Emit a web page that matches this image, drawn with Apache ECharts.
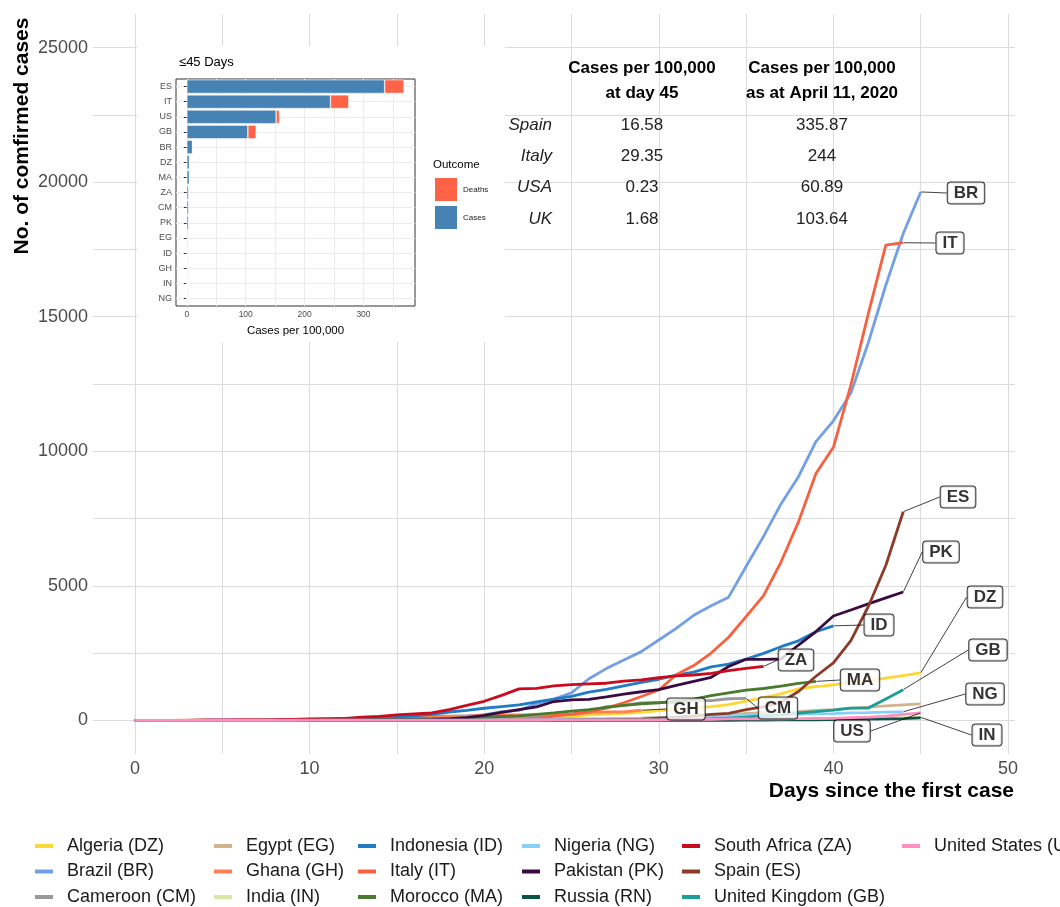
<!DOCTYPE html>
<html>
<head>
<meta charset="utf-8">
<script src="https://cdn.jsdelivr.net/npm/echarts@6/dist/echarts.min.js"></script>
<style>
  html, body { margin: 0; padding: 0; background: #fff; }
  #main { width: 1060px; height: 907px; }
</style>
</head>
<body>
<div id="main"></div>
<script>
// ---- main chart data: cumulative confirmed cases by day since first case ----
var countryNames = ['Algeria (DZ)', 'Brazil (BR)', 'Cameroon (CM)', 'Egypt (EG)', 'Ghana (GH)', 'India (IN)',
  'Indonesia (ID)', 'Italy (IT)', 'Morocco (MA)', 'Nigeria (NG)', 'Pakistan (PK)', 'Russia (RN)',
  'South Africa (ZA)', 'Spain (ES)', 'United Kingdom (GB)', 'United States (US)'];
var countryCodes = ['DZ', 'BR', 'CM', 'EG', 'GH', 'IN', 'ID', 'IT', 'MA', 'NG', 'PK', 'RN', 'ZA', 'ES', 'GB', 'US'];
var countryColors = ['#fdd835', '#729fe6', '#999999', '#d2b48c', '#ff7f50', '#d6e8a6', '#1f7bc4', '#f9603f',
  '#4a7a30', '#87cefa', '#3b0a40', '#0b5345', '#cc0a1d', '#8e3a28', '#1a9e96', '#ff8fc0'];

var DZ = [1,1,1,1,1,1,3,5,12,12,17,17,19,20,20,20,24,26,37,48,54,60,74,87,90,139,201,230,264,302,367,409,454,511,584,716,847,986,1171,1251,1320,1423,1468,1572,1666,1761];
var BR = [1,1,1,1,2,2,2,2,4,4,13,13,20,25,31,38,52,151,151,162,200,321,372,621,793,1021,1546,1924,2247,2554,2985,3417,3904,4256,4579,5717,6836,8044,9056,10360,11130,12161,14034,16170,18092,19638];
var CM = [1,2,2,2,2,2,2,2,2,2,4,10,10,13,27,40,56,66,75,75,88,91,139,139,193,233,306,509,555,650,658,658,730,730,803,820];
var EG = [1,1,1,1,1,1,1,1,1,1,1,1,1,1,1,1,1,2,2,2,2,3,15,15,49,55,59,60,67,80,109,110,150,196,196,256,285,294,327,366,402,456,495,536,576,609];
var GH = [2,2,3,6,6,7,7,11,16,19,23,27,53,93,132,137,141,152,152,161,195,204,205,205,214,214,287,313,313,378];
var IN = [1,1,1,2,3,3,3,3,3,3,3,3,3,3,3,3,3,3,3,3,3,3,3,3,3,3,3,3,3,3,3,3,5,5,28,30,31,34,39,43,56,62,73,82,102,113];
var ID = [0,2,2,2,2,4,4,6,19,27,34,34,69,96,117,134,172,227,311,369,450,514,579,686,790,893,1046,1155,1285,1414,1528,1677,1790,1986,2092,2273,2491,2738,2956,3293,3512];
var IT = [2,2,2,2,2,2,2,2,3,3,3,3,3,3,3,3,3,3,3,3,3,3,20,62,155,229,322,453,655,888,1128,1694,2036,2502,3089,3858,4636,5883,7375,9172,10149,12462,15113,17660,17750];
var MA = [1,1,1,2,2,2,2,2,2,5,6,7,17,28,37,44,54,63,77,96,115,143,170,225,275,345,402,479,556,617,654,708,791,919,1021,1120,1184,1275,1374,1448];
var NG = [1,1,1,1,1,1,1,1,1,1,1,2,2,2,2,2,2,2,2,3,8,8,12,22,30,40,44,51,65,70,89,111,131,135,174,184,210,214,232,238,254,276,288,305,318];
var PK = [2,2,2,2,4,4,4,5,5,5,5,6,7,16,16,16,20,28,53,100,187,299,400,501,700,760,780,875,972,1063,1140,1300,1450,1600,2000,2270,2270,2280,2800,3300,3880,4100,4330,4550,4770];
var RN = [2,2,2,2,2,2,2,2,2,2,2,2,2,2,2,2,2,2,2,2,2,2,2,2,2,2,2,2,2,2,2,3,3,3,4,10,14,17,17,20,28,34,45,59,63,93];
var ZA = [1,1,2,3,7,7,13,17,24,38,51,62,62,116,150,202,240,274,402,554,709,927,1170,1187,1280,1326,1353,1380,1462,1505,1585,1655,1686,1749,1845,1934,2003];
var ES = [1,1,1,1,1,1,1,1,1,2,2,2,2,2,2,2,2,2,2,2,2,2,2,2,2,6,13,15,32,45,84,120,165,222,259,400,500,674,1073,1639,2140,2965,4231,5753,7753];
var GB = [0,2,2,2,2,2,2,2,2,2,3,8,8,9,9,9,9,9,9,9,9,9,9,9,9,13,13,13,15,20,23,36,40,51,86,116,164,207,273,321,382,456,456,798,1140];
var US = [1,1,1,2,2,5,5,5,5,5,6,8,8,11,11,11,12,12,12,12,12,13,13,14,15,15,15,15,15,15,15,35,35,35,53,53,59,60,62,70,76,101,122,153,221,278];
var seriesValues = [DZ, BR, CM, EG, GH, IN, ID, IT, MA, NG, PK, RN, ZA, ES, GB, US];

// labelled line ends (code order) and where the repelled label boxes sit
var labelCodes = ['BR', 'IT', 'ES', 'PK', 'DZ', 'GB', 'ID', 'ZA', 'MA', 'CM', 'GH', 'NG', 'US', 'IN'];
var labelBoxes = {
  BR: [966, 193], IT: [950, 243], ES: [958, 497], PK: [941, 552], DZ: [985, 597], GB: [988, 650],
  ID: [879, 625], ZA: [796, 660], MA: [860, 680], CM: [778, 708], GH: [686, 709], NG: [985, 694],
  US: [852, 731], IN: [987, 735]
};

var xTickLabels = [0, 10, 20, 30, 40, 50];
var xGridValues = [0, 5, 10, 15, 20, 25, 30, 35, 40, 45, 50];
var yTickLabels = [0, 5000, 10000, 15000, 20000, 25000];
var yGridValues = [0, 2500, 5000, 7500, 10000, 12500, 15000, 17500, 20000, 22500, 25000];

// ---- inset: cases / deaths per 100,000 ----
var insetCodes = ['ES', 'IT', 'US', 'GB', 'BR', 'DZ', 'MA', 'ZA', 'CM', 'PK', 'EG', 'ID', 'GH', 'IN', 'NG'];
var insetCases = [335.87, 244, 151.6, 103.64, 9.6, 4.5, 4.4, 3.4, 3.3, 3.2, 1.9, 1.4, 1.3, 0.6, 0.3];
var insetDeaths = [33, 31, 5.7, 14, 0.5, 0.2, 0.2, 0.1, 0.1, 0.1, 0.1, 0.1, 0, 0, 0];
var insetXLabels = [0, 100, 200, 300];
var insetXGrid = [0, 50, 100, 150, 200, 250, 300, 350];

// ---- table ----
var tableCountries = ['Spain', 'Italy', 'USA', 'UK'];
var tableDay45 = ['16.58', '29.35', '0.23', '1.68'];
var tableApril11 = ['335.87', '244', '60.89', '103.64'];

var FONT = '"Liberation Sans", Arial, sans-serif';
var chart = echarts.init(document.getElementById('main'));

var series = [];
for (var i = 0; i < countryNames.length; i++) {
  var pts = [];
  for (var d = 0; d < seriesValues[i].length; d++) pts.push([d, seriesValues[i][d]]);
  series.push({
    name: countryNames[i],
    type: 'line',
    xAxisIndex: 0, yAxisIndex: 0,
    data: pts,
    showSymbol: false,
    symbol: 'none',
    lineStyle: { width: 2.8, color: countryColors[i] },
    itemStyle: { color: countryColors[i] },
    z: 2
  });
}

// end-point labels with leader lines
var endPts = [];
labelCodes.forEach(function (c) {
  var arr = seriesValues[countryCodes.indexOf(c)];
  endPts.push({ name: c, value: [arr.length - 1, arr[arr.length - 1]] });
});
series.push({
  name: 'labels',
  type: 'scatter',
  xAxisIndex: 0, yAxisIndex: 0,
  data: endPts,
  symbolSize: 1,
  itemStyle: { color: 'rgba(0,0,0,0)' },
  z: 5,
  label: {
    show: true,
    formatter: '{b}',
    color: '#000',
    fontWeight: 'bold',
    fontSize: 17,
    fontFamily: FONT,
    backgroundColor: '#fff',
    borderColor: '#000',
    borderWidth: 1,
    borderRadius: 3,
    padding: [3, 6, 1, 6]
  },
  labelLine: { show: true, lineStyle: { color: '#111', width: 0.8 } },
  labelLayout: function (p) {
    var b = labelBoxes[labelCodes[p.dataIndex]];
    return { x: b[0], y: b[1], align: 'center', verticalAlign: 'middle' };
  }
});

series.push({
  name: 'Cases', type: 'bar', xAxisIndex: 1, yAxisIndex: 1, stack: 'outcome',
  data: insetCases, barCategoryGap: '10%',
  itemStyle: { color: '#4682b4', borderColor: '#fff', borderWidth: 0.5 }, z: 12
});
series.push({
  name: 'Deaths', type: 'bar', xAxisIndex: 1, yAxisIndex: 1, stack: 'outcome',
  data: insetDeaths, barCategoryGap: '10%',
  itemStyle: { color: '#ff6347', borderColor: '#fff', borderWidth: 0.5 }, z: 12
});

// bottom legend, laid out column by column like the original
var legendCols = [
  ['Algeria (DZ)', 'Brazil (BR)', 'Cameroon (CM)'],
  ['Egypt (EG)', 'Ghana (GH)', 'India (IN)'],
  ['Indonesia (ID)', 'Italy (IT)', 'Morocco (MA)'],
  ['Nigeria (NG)', 'Pakistan (PK)', 'Russia (RN)'],
  ['South Africa (ZA)', 'Spain (ES)', 'United Kingdom (GB)'],
  ['United States (US)']
];
var legendLeft = [35, 214, 358, 522, 682, 902];
var legends = legendCols.map(function (col, k) {
  return {
    data: col, left: legendLeft[k], top: 836, orient: 'vertical',
    icon: 'rect', itemWidth: 18, itemHeight: 4, itemGap: 5.5,
    selectedMode: false, padding: 0,
    textStyle: { fontSize: 18, color: '#1a1a1a', fontFamily: FONT, lineHeight: 20, padding: [0, 0, 0, 9] }
  };
});
legends.push({
  data: ['Deaths', 'Cases'], left: 433, top: 176, orient: 'vertical',
  icon: 'rect', itemWidth: 24, itemHeight: 25, itemGap: 1, selectedMode: false, padding: 0, z: 12,
  textStyle: { fontSize: 8, color: '#222', fontFamily: FONT }
});

var graphics = [
  { type: 'rect', z: 10, shape: { x: 137, y: 46, width: 368, height: 296 }, style: { fill: '#fff' } },
  { type: 'text', z: 20, x: 179, y: 62, style: { text: '\u226445 Days', fill: '#000', font: '13px ' + FONT, align: 'left', verticalAlign: 'middle' } },
  { type: 'text', z: 20, x: 433, y: 165, style: { text: 'Outcome', fill: '#000', font: '11.5px ' + FONT, align: 'left', verticalAlign: 'middle' } },
  { type: 'text', z: 20, x: 22, y: 136, rotation: Math.PI / 2, style: { text: 'No. of comfirmed cases', fill: '#000', font: 'bold 21px ' + FONT, align: 'center', verticalAlign: 'middle' } },
  { type: 'text', z: 20, x: 1014, y: 791, style: { text: 'Days since the first case', fill: '#000', font: 'bold 21px ' + FONT, align: 'right', verticalAlign: 'middle' } },
  { type: 'text', z: 20, x: 642, y: 68, style: { text: 'Cases per 100,000', fill: '#000', font: 'bold 17px ' + FONT, align: 'center', verticalAlign: 'middle' } },
  { type: 'text', z: 20, x: 642, y: 93, style: { text: 'at day 45', fill: '#000', font: 'bold 17px ' + FONT, align: 'center', verticalAlign: 'middle' } },
  { type: 'text', z: 20, x: 822, y: 68, style: { text: 'Cases per 100,000', fill: '#000', font: 'bold 17px ' + FONT, align: 'center', verticalAlign: 'middle' } },
  { type: 'text', z: 20, x: 822, y: 93, style: { text: 'as at April 11, 2020', fill: '#000', font: 'bold 17px ' + FONT, align: 'center', verticalAlign: 'middle' } }
];
var rowY = [125, 156, 187, 219];
for (var r = 0; r < tableCountries.length; r++) {
  graphics.push({ type: 'text', z: 20, x: 552, y: rowY[r], style: { text: tableCountries[r], fill: '#222', font: 'italic 17px ' + FONT, align: 'right', verticalAlign: 'middle' } });
  graphics.push({ type: 'text', z: 20, x: 642, y: rowY[r], style: { text: tableDay45[r], fill: '#222', font: '17px ' + FONT, align: 'center', verticalAlign: 'middle' } });
  graphics.push({ type: 'text', z: 20, x: 822, y: rowY[r], style: { text: tableApril11[r], fill: '#222', font: '17px ' + FONT, align: 'center', verticalAlign: 'middle' } });
}

var option = {
  animation: false,
  backgroundColor: '#fff',
  textStyle: { fontFamily: FONT },
  grid: [
    { left: 93, right: 45, top: 14, bottom: 153, show: false },
    { left: 176, top: 79, width: 239, height: 227, show: true, backgroundColor: '#fff', borderColor: '#333', borderWidth: 1, z: 11 }
  ],
  xAxis: [
    {
      gridIndex: 0, type: 'value', min: -2.4, max: 50.4,
      axisLine: { show: false },
      axisTick: { show: false, customValues: xGridValues },
      axisLabel: { customValues: xTickLabels, color: '#4d4d4d', fontSize: 18, margin: 6 },
      splitLine: { show: true, lineStyle: { color: '#dcdcdc', width: 1.1 } }
    },
    {
      gridIndex: 1, type: 'value', min: -18.45, max: 387.5, z: 11,
      axisLine: { show: false },
      axisTick: { show: false, customValues: insetXGrid },
      axisLabel: { customValues: insetXLabels, color: '#4d4d4d', fontSize: 8.5, margin: 4 },
      splitLine: { show: true, lineStyle: { color: '#ebebeb', width: 1 } },
      name: 'Cases per 100,000', nameLocation: 'middle', nameGap: 19,
      nameTextStyle: { fontSize: 11.5, color: '#000' }
    }
  ],
  yAxis: [
    {
      gridIndex: 0, type: 'value', min: -1250, max: 26250,
      axisLine: { show: false },
      axisTick: { show: false, customValues: yGridValues },
      axisLabel: { customValues: yTickLabels, color: '#4d4d4d', fontSize: 18, margin: 5, formatter: function (v) { return String(v); } },
      splitLine: { show: true, lineStyle: { color: '#dcdcdc', width: 1.1 } }
    },
    {
      gridIndex: 1, type: 'category', inverse: true, data: insetCodes, z: 11,
      axisLine: { show: false },
      axisTick: { show: true, alignWithLabel: true, length: 3, lineStyle: { color: '#333' } },
      axisLabel: { color: '#4d4d4d', fontSize: 9, margin: 4 },
      splitLine: { show: false }
    },
    {
      gridIndex: 1, type: 'value', inverse: true, min: -0.5, max: 14.5, z: 11,
      axisLine: { show: false },
      axisTick: { show: false, customValues: [0, 1, 2, 3, 4, 5, 6, 7, 8, 9, 10, 11, 12, 13, 14] },
      axisLabel: { show: false },
      splitLine: { show: true, lineStyle: { color: '#ebebeb', width: 1 } }
    }
  ],
  legend: legends,
  graphic: { elements: graphics },
  series: series
};
chart.setOption(option);
</script>
</body>
</html>
